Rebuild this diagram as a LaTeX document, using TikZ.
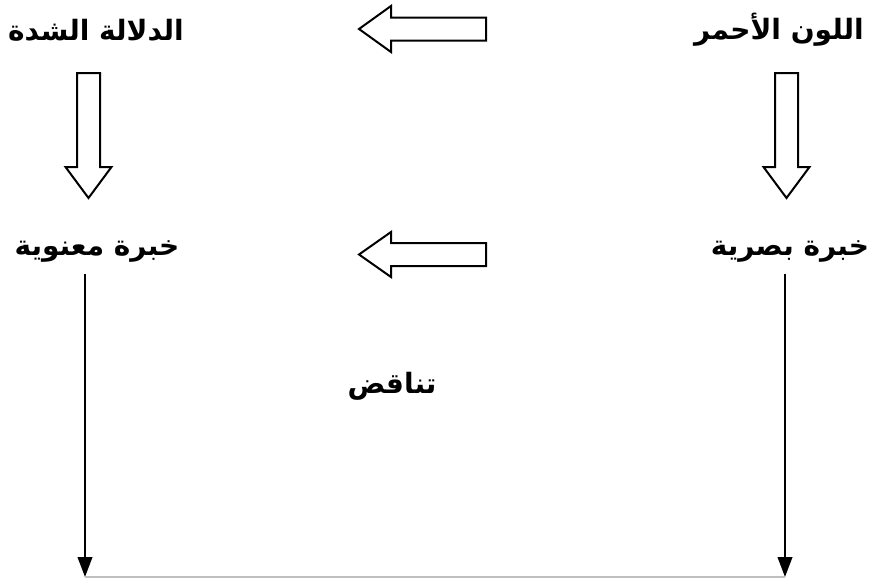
\documentclass[tikz,border=0pt]{standalone}
\usepackage{fontspec}
\usepackage{tikz}
\usetikzlibrary{arrows.meta,positioning,calc}
\TeXXeTstate=1
\newfontfamily\arabicfont[Script=Arabic]{DejaVu Sans}

\begin{document}
\begin{tikzpicture}[
  x=0.75pt, y=-0.75pt,
  term/.style={font=\arabicfont\bfseries\fontsize{21}{25}\selectfont, inner sep=2pt},
  hollow/.style={draw=black, fill=white, line width=1.5pt, line join=miter},
  downline/.style={line width=1.4pt, -{Triangle[width=11pt,length=15pt]}},
  baseline/.style={draw=black!25, line width=0.8pt}
]
\useasboundingbox (0,0) rectangle (869,578);
% labels
\node[term] (tleft) at (96,30) {\beginR الدلالة الشدة\endR};
\node[term] (tright) at (779,30) {\beginR اللون الأحمر\endR};
\node[term] (mleft) at (97,251) {\beginR خبرة معنوية\endR};
\node[term] (mright) at (790,251) {\beginR خبرة بصرية\endR};
\node[term] (clash) at (392,386) {\beginR تناقض\endR};
% hollow arrows
\draw[hollow] (486,17.5) -- (391,17.5) -- (391,6) -- (359,29) -- (391,52) -- (391,40.5) -- (486,40.5) -- cycle;
\draw[hollow] (486,243) -- (391,243) -- (391,232) -- (359,254.5) -- (391,277) -- (391,266) -- (486,266) -- cycle;
\draw[hollow] (77,73) -- (100,73) -- (100,167) -- (111.5,167) -- (88.5,198) -- (65.5,167) -- (77,167) -- cycle;
\draw[hollow] (775,73) -- (798,73) -- (798,167) -- (809.5,167) -- (786.5,198) -- (763.5,167) -- (775,167) -- cycle;
% long arrows down
\coordinate (lbot) at (85,577);
\coordinate (rbot) at (785,577);
\draw[downline] (lbot |- 0,274) -- (lbot);
\draw[downline] (rbot |- 0,274) -- (rbot);
\draw[baseline] (lbot) -- (rbot);
\end{tikzpicture}
\end{document}
